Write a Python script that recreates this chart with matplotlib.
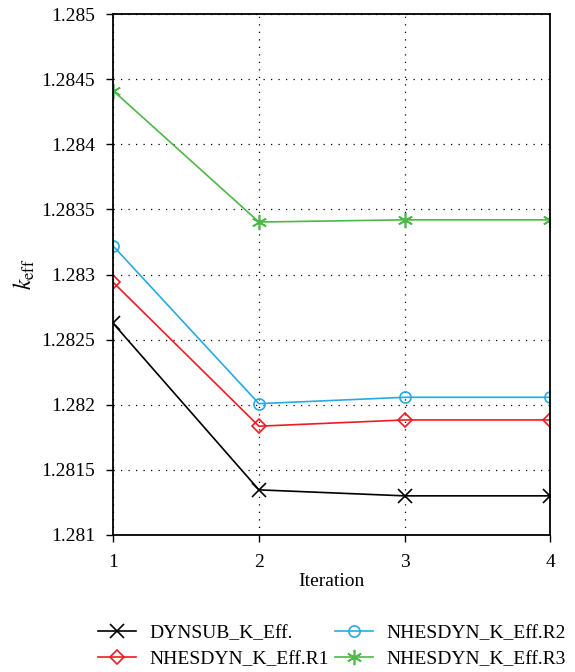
import matplotlib.pyplot as plt

plt.rcParams["font.family"] = ["Liberation Serif", "DejaVu Serif"]
plt.rcParams["mathtext.fontset"] = "stix"

iterations = [1, 2, 3, 4]
dynsub = [1.282624, 1.281346, 1.281300, 1.281300]
nhesdyn_r1 = [1.282939, 1.281835, 1.281883, 1.281883]
nhesdyn_r2 = [1.283218, 1.282008, 1.282057, 1.282057]
nhesdyn_r3 = [1.284411, 1.283403, 1.283420, 1.283420]

y_ticks = [1.281, 1.2815, 1.282, 1.2825, 1.283, 1.2835, 1.284, 1.2845, 1.285]
y_labels = ["1.281", "1.2815", "1.282", "1.2825", "1.283", "1.2835", "1.284", "1.2845", "1.285"]

fig = plt.figure(figsize=(5.75, 6.72), dpi=100)
ax = fig.add_axes([0.197, 0.204, 0.76, 0.775])

ax.plot(iterations, dynsub, color="black", lw=1.2, marker="x", ms=10, mew=1.2,
        label="DYNSUB_K_Eff.")
ax.plot(iterations, nhesdyn_r1, color="#ed1c24", lw=1.2, marker="D", ms=7, mew=1.2,
        mfc="none", label="NHESDYN_K_Eff.R1")
ax.plot(iterations, nhesdyn_r2, color="#27aae1", lw=1.2, marker="o", ms=8, mew=1.2,
        mfc="none", label="NHESDYN_K_Eff.R2")
ax.plot(iterations, nhesdyn_r3, color="#4db848", lw=1.2, marker=(6, 2, 0), ms=11, mew=1.2,
        label="NHESDYN_K_Eff.R3")

ax.set_xlim(1, 4)
ax.set_ylim(1.281, 1.285)
ax.set_xticks(iterations)
ax.set_yticks(y_ticks)
ax.set_yticklabels(y_labels)
ax.tick_params(direction="out", length=5, width=1, labelsize=14)
ax.tick_params(axis="x", pad=9)
ax.tick_params(axis="y", pad=8)
for s in ax.spines.values():
    s.set_linewidth(1.3)

ax.grid(True, linestyle=(0, (1, 5)), color="black", linewidth=0.9)
ax.set_xlabel("Iteration", fontsize=14, labelpad=1)
ax.set_ylabel(r"$k_{\mathrm{eff}}$", fontsize=17, labelpad=3)

ax.legend(loc="upper center", bbox_to_anchor=(0.5, -0.145), ncol=2, frameon=False,
          fontsize=14, handlelength=1.95, columnspacing=0.3, handletextpad=0.7,
          labelspacing=0.45, borderpad=0.2)

plt.savefig("out.png", dpi=100)
